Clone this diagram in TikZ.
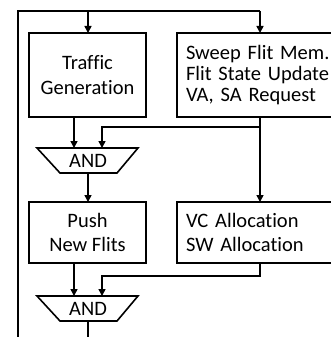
\documentclass[tikz,border=0pt]{standalone}
\usepackage{fontspec}
\setmainfont{Carlito}[Ligatures=NoCommon]
\usetikzlibrary{arrows.meta}
\begin{document}
\begin{tikzpicture}[x=1pt,y=-1pt,
  every node/.style={font=\fontsize{20.5}{24.5}\selectfont},
  tight/.style={font=\fontsize{20.5}{21}\selectfont},
  wire/.style={line width=1.6pt},
  flow/.style={wire,-{Triangle[length=7pt,width=7pt]}},
  stage/.style={draw,line width=1.6pt,inner sep=0pt,align=center},
  gatebox/.style={line width=1.6pt}]
\useasboundingbox (0,0) rectangle (331,337);
\clip (0,0) rectangle (331,337);

% processing stages
\node[stage,minimum width=117pt,minimum height=84pt] (gen) at (87.5,75) {Traffic\\Generation};
\node[stage,tight,minimum width=168pt,minimum height=84pt,text width=150pt,align=left,inner xsep=9pt] (sweep) at (261,75)
  {Sweep Flit Mem.\\Flit State Update\\VA, SA Request};
\node[stage,minimum width=117pt,minimum height=61pt] (push) at (87.5,232.5) {Push\\New Flits};
\node[stage,minimum width=168pt,minimum height=61pt,text width=150pt,align=left,inner xsep=9pt] (alloc) at (261,232.5)
  {VC Allocation\\SW Allocation};

% AND gates
\node[inner sep=0pt] (and1) at (88,160.5) {AND};
\draw[gatebox] (37,148) -- (138,148) -- (117,173) -- (60,173) -- cycle;
\node[inner sep=0pt] (and2) at (88,308.5) {AND};
\draw[gatebox] (37,296) -- (138,296) -- (117,321) -- (60,321) -- cycle;

% gate inputs and outputs
\coordinate (a1l) at (74,148);
\coordinate (a1r) at (102,148);
\coordinate (a1o) at (88,173);
\coordinate (a2l) at (74,296);
\coordinate (a2r) at (102,296);
\coordinate (a2o) at (88,321);

% loop back to the top
\coordinate (loopb) at (18,350);
\coordinate (loopt) at (18,11);
\draw[wire] (a2o) -- (88,350) -- (loopb) -- (loopt) -- (260,11);
\draw[flow] (88,11) -- (88,33);
\draw[flow] (260,11) -- (260,33);

% first stage to AND
\draw[flow] (74,117) -- (a1l);
\draw[flow] (260,117) -- (260,127) -- (102,127) -- (a1r);
\draw[flow] (260,127) -- (260,202);
\draw[flow] (a1o) -- (88,202);

% second stage to AND
\draw[flow] (74,263) -- (a2l);
\draw[flow] (260,263) -- (260,276) -- (102,276) -- (a2r);
\end{tikzpicture}
\end{document}
